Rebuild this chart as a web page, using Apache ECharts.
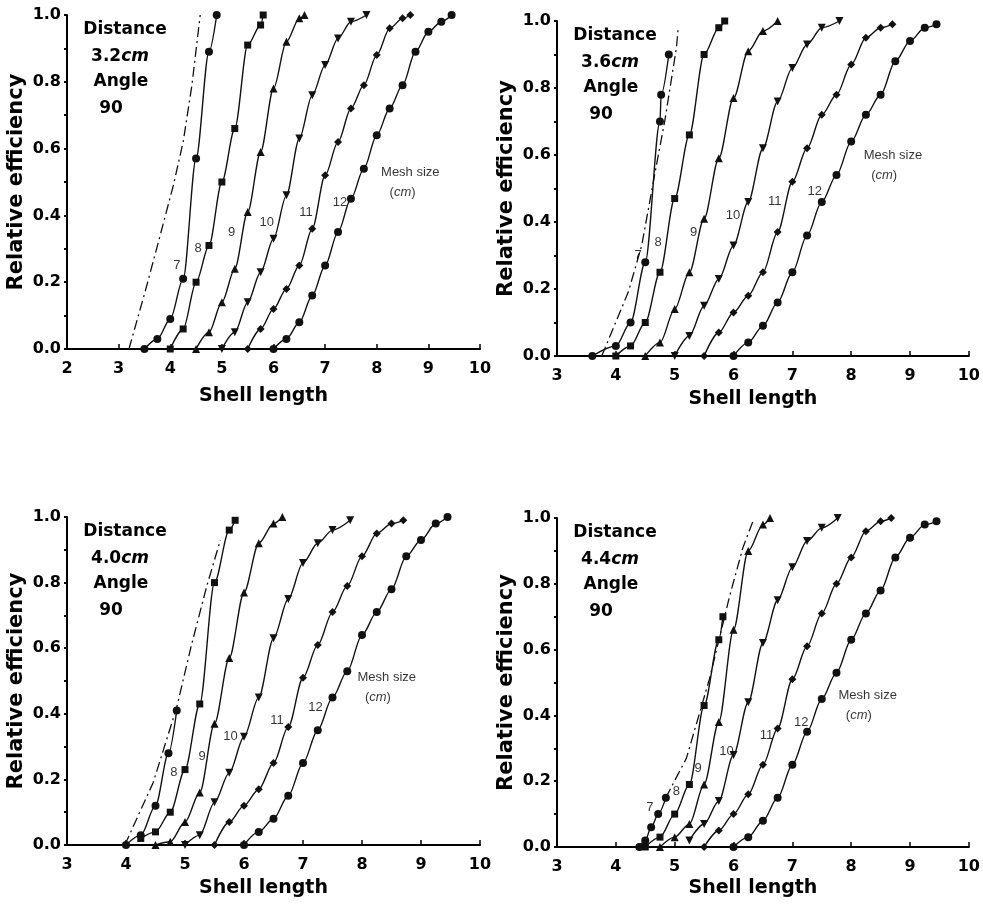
<!DOCTYPE html>
<html>
<head>
<meta charset="utf-8">
<script src="https://cdn.jsdelivr.net/npm/echarts@6/dist/echarts.min.js"></script>
<style>
html, body { margin: 0; background: #fff; }
#main { width: 983px; height: 908px; }
</style>
</head>
<body>
<div id="main"></div>
<script>
// distance 3.2 cm
const d32_7 = [[3.5,0],[3.75,0.03],[4,0.09],[4.25,0.21],[4.5,0.57],[4.75,0.89],[4.9,1.0]];
const d32_8 = [[4,0],[4.25,0.06],[4.5,0.2],[4.75,0.31],[5,0.5],[5.25,0.66],[5.5,0.91],[5.75,0.97],[5.8,1.0]];
const d32_9 = [[4.5,0],[4.75,0.05],[5,0.14],[5.25,0.24],[5.5,0.41],[5.75,0.59],[6,0.78],[6.25,0.92],[6.5,0.99],[6.6,1.0]];
const d32_10 = [[5,0],[5.25,0.05],[5.5,0.14],[5.75,0.23],[6,0.33],[6.25,0.46],[6.5,0.63],[6.75,0.76],[7,0.85],[7.25,0.93],[7.5,0.98],[7.8,1.0]];
const d32_11 = [[5.5,0],[5.75,0.06],[6,0.12],[6.25,0.18],[6.5,0.25],[6.75,0.36],[7,0.52],[7.25,0.62],[7.5,0.72],[7.75,0.79],[8,0.88],[8.25,0.96],[8.5,0.99],[8.65,1.0]];
const d32_12 = [[6,0],[6.25,0.03],[6.5,0.08],[6.75,0.16],[7,0.25],[7.25,0.35],[7.5,0.45],[7.75,0.54],[8,0.64],[8.25,0.72],[8.5,0.79],[8.75,0.89],[9,0.95],[9.25,0.98],[9.45,1.0]];
const d32_dd = [[3.2,0],[3.51,0.17],[3.77,0.32],[4.06,0.49],[4.25,0.62],[4.42,0.79],[4.58,1.0]];

// distance 3.6 cm
const d36_7 = [[3.6,0],[4,0.03],[4.25,0.1],[4.5,0.28],[4.75,0.7],[4.77,0.78],[4.9,0.9]];
const d36_8 = [[4,0],[4.25,0.03],[4.5,0.1],[4.75,0.25],[5,0.47],[5.25,0.66],[5.5,0.9],[5.75,0.98],[5.85,1.0]];
const d36_9 = [[4.5,0],[4.75,0.04],[5,0.14],[5.25,0.25],[5.5,0.41],[5.75,0.59],[6,0.77],[6.25,0.91],[6.5,0.97],[6.75,1.0]];
const d36_10 = [[5,0],[5.25,0.06],[5.5,0.15],[5.75,0.23],[6,0.33],[6.25,0.46],[6.5,0.62],[6.75,0.76],[7,0.86],[7.25,0.93],[7.5,0.98],[7.8,1.0]];
const d36_11 = [[5.5,0],[5.75,0.07],[6,0.13],[6.25,0.18],[6.5,0.25],[6.75,0.37],[7,0.52],[7.25,0.62],[7.5,0.72],[7.75,0.78],[8,0.87],[8.25,0.95],[8.5,0.98],[8.7,0.99]];
const d36_12 = [[6,0],[6.25,0.04],[6.5,0.09],[6.75,0.16],[7,0.25],[7.25,0.36],[7.5,0.46],[7.75,0.54],[8,0.64],[8.25,0.72],[8.5,0.78],[8.75,0.88],[9,0.94],[9.25,0.98],[9.45,0.99]];
const d36_dd = [[3.76,0],[4.21,0.19],[4.44,0.33],[4.69,0.57],[4.83,0.7],[5.03,0.92],[5.06,0.98]];

// distance 4.0 cm
const d40_7 = [[4,0],[4.25,0.03],[4.5,0.12],[4.72,0.28],[4.86,0.41]];
const d40_8 = [[4.25,0.02],[4.5,0.04],[4.75,0.1],[5,0.23],[5.25,0.43],[5.5,0.8],[5.75,0.96],[5.85,0.99]];
const d40_9 = [[4.5,0],[4.75,0.01],[5,0.07],[5.25,0.16],[5.5,0.37],[5.75,0.57],[6,0.77],[6.25,0.92],[6.5,0.98],[6.65,1.0]];
const d40_10 = [[5,0],[5.25,0.03],[5.5,0.13],[5.75,0.22],[6,0.33],[6.25,0.45],[6.5,0.63],[6.75,0.75],[7,0.86],[7.25,0.92],[7.5,0.96],[7.8,0.99]];
const d40_11 = [[5.5,0],[5.75,0.07],[6,0.12],[6.25,0.17],[6.5,0.25],[6.75,0.36],[7,0.51],[7.25,0.61],[7.5,0.71],[7.75,0.79],[8,0.88],[8.25,0.95],[8.5,0.98],[8.7,0.99]];
const d40_12 = [[6,0],[6.25,0.04],[6.5,0.08],[6.75,0.15],[7,0.25],[7.25,0.35],[7.5,0.45],[7.75,0.53],[8,0.64],[8.25,0.71],[8.5,0.78],[8.75,0.88],[9,0.93],[9.25,0.98],[9.45,1.0]];
const d40_dd = [[3.98,0],[4.46,0.19],[4.86,0.42],[5.11,0.61],[5.37,0.79],[5.6,0.93]];

// distance 4.4 cm
const d44_7 = [[4.4,0],[4.5,0.02],[4.6,0.06],[4.72,0.1],[4.85,0.15]];
const d44_8 = [[4.5,0],[4.75,0.03],[5,0.1],[5.25,0.19],[5.5,0.43],[5.75,0.63],[5.82,0.7]];
const d44_9 = [[4.75,0],[5,0.03],[5.25,0.07],[5.5,0.19],[5.75,0.38],[6,0.66],[6.25,0.9],[6.5,0.98],[6.62,1.0]];
const d44_10 = [[5.25,0.02],[5.5,0.07],[5.75,0.14],[6,0.28],[6.25,0.44],[6.5,0.62],[6.75,0.75],[7,0.85],[7.25,0.93],[7.5,0.97],[7.77,1.0]];
const d44_11 = [[5.5,0],[5.75,0.05],[6,0.1],[6.25,0.16],[6.5,0.25],[6.75,0.36],[7,0.51],[7.25,0.61],[7.5,0.71],[7.75,0.8],[8,0.88],[8.25,0.96],[8.5,0.99],[8.68,1.0]];
const d44_12 = [[6,0],[6.25,0.03],[6.5,0.08],[6.75,0.15],[7,0.25],[7.25,0.35],[7.5,0.45],[7.75,0.53],[8,0.63],[8.25,0.71],[8.5,0.78],[8.75,0.88],[9,0.94],[9.25,0.98],[9.45,0.99]];
const d44_dd = [[4.85,0.15],[5.2,0.27],[5.59,0.51],[5.93,0.76],[6.16,0.91],[6.33,0.99]];

// mesh size labels [x, y, text]
const lab32 = [[4.13,0.25,'7'],[4.54,0.3,'8'],[5.19,0.35,'9'],[5.87,0.38,'10'],[6.63,0.41,'11'],[7.29,0.44,'12']];
const lab36 = [[4.38,0.3,'7'],[4.72,0.34,'8'],[5.32,0.37,'9'],[5.99,0.42,'10'],[6.7,0.46,'11'],[7.38,0.49,'12']];
const lab40 = [[4.81,0.22,'8'],[5.29,0.27,'9'],[5.77,0.33,'10'],[6.56,0.38,'11'],[7.21,0.42,'12']];
const lab44 = [[4.58,0.12,'7'],[5.03,0.17,'8'],[5.4,0.24,'9'],[5.88,0.29,'10'],[6.56,0.34,'11'],[7.15,0.38,'12']];
const meshPos = [[8.65,0.53],[8.71,0.6],[8.42,0.51],[8.28,0.46]];

const distances = ['3.2', '3.6', '4.0', '4.4'];
const xMins = [2, 3, 3, 3];
const yTicks = ['0.0', '0.2', '0.4', '0.6', '0.8', '1.0'];

const BOLD = 'DejaVu Sans, Arial, sans-serif';
const FONT = 'Liberation Sans, Arial, sans-serif';
const downTri = 'path://M0,0 L10,0 L5,9 Z';
const symbols = ['circle', 'rect', 'triangle', downTri, 'diamond', 'circle'];

const panels = [
    { grid: { left: 67, top: 15, width: 413, height: 334 }, curves: [d32_7, d32_8, d32_9, d32_10, d32_11, d32_12], dd: d32_dd, labels: lab32, gap: 38 },
    { grid: { left: 557, top: 21, width: 413, height: 335 }, curves: [d36_7, d36_8, d36_9, d36_10, d36_11, d36_12], dd: d36_dd, labels: lab36, gap: 34 },
    { grid: { left: 67, top: 517, width: 413, height: 328 }, curves: [d40_7, d40_8, d40_9, d40_10, d40_11, d40_12], dd: d40_dd, labels: lab40, gap: 34 },
    { grid: { left: 557, top: 518, width: 413, height: 329 }, curves: [d44_7, d44_8, d44_9, d44_10, d44_11, d44_12], dd: d44_dd, labels: lab44, gap: 32 }
];

const grids = [], xAxes = [], yAxes = [], series = [], graphics = [];

panels.forEach((p, i) => {
    grids.push(p.grid);
    xAxes.push({
        gridIndex: i, type: 'value', min: xMins[i], max: 10, interval: 1,
        axisLine: { lineStyle: { color: '#000', width: 2 } },
        axisTick: { inside: true, length: 5, lineStyle: { color: '#000', width: 1.5 } },
        axisLabel: { color: '#000', fontSize: 16, fontWeight: 'bold', fontFamily: BOLD, margin: 12 },
        splitLine: { show: false },
        name: 'Shell length', nameLocation: 'middle', nameGap: p.gap,
        nameTextStyle: { color: '#000', fontSize: 19, fontWeight: 'bold', fontFamily: BOLD, padding: [0, 20, 0, 0] }
    });
    yAxes.push({
        gridIndex: i, type: 'value', min: 0, max: 1, interval: 0.2,
        axisLine: { show: true, lineStyle: { color: '#000', width: 2 } },
        axisTick: { show: true, length: 3, lineStyle: { color: '#000', width: 2 } },
        minorTick: { show: true, splitNumber: 2, length: 3, lineStyle: { color: '#000', width: 2 } },
        axisLabel: {
            color: '#000', fontSize: 16, fontWeight: 'bold', fontFamily: BOLD, margin: 6,
            formatter: v => yTicks[Math.round(v * 5)]
        },
        splitLine: { show: false },
        name: 'Relative efficiency', nameLocation: 'middle', nameGap: 40,
        nameTextStyle: { color: '#000', fontSize: 21, fontWeight: 'bold', fontFamily: BOLD }
    });

    p.curves.forEach((d, k) => {
        series.push({
            type: 'line', xAxisIndex: i, yAxisIndex: i, data: d,
            smooth: 0.3, smoothMonotone: 'x',
            symbol: symbols[k], symbolSize: k === 1 ? 7 : 8,
            itemStyle: { color: '#111' },
            lineStyle: { color: '#111', width: 1.4 },
            silent: true, z: 3
        });
    });
    series.push({
        type: 'line', xAxisIndex: i, yAxisIndex: i, data: p.dd,
        smooth: false, symbol: 'none',
        lineStyle: { color: '#111', width: 1.3, type: [10, 4, 2, 4] },
        silent: true, z: 2
    });

    const txt = p.labels.map(l => ({ value: [l[0], l[1]], name: l[2] }));
    txt.push({ value: meshPos[i], name: 'Mesh size' });
    txt.push({ value: [meshPos[i][0] - 0.15, meshPos[i][1] - 0.06], name: '({i|cm})' });
    series.push({
        type: 'scatter', xAxisIndex: i, yAxisIndex: i, data: txt,
        symbolSize: 0, silent: true, z: 5,
        itemStyle: { color: '#000' },
        label: {
            show: true, position: 'inside', formatter: q => q.name,
            color: '#000', textBorderWidth: 0, fontSize: 13, fontFamily: FONT,
            rich: { i: { fontStyle: 'italic', fontSize: 13, fontFamily: FONT, color: '#000', textBorderWidth: 0 } }
        }
    });

    // Distance / Angle block
    const cx = p.grid.left + 58, ty = p.grid.top;
    const base = { fontSize: 17, fontWeight: 'bold', fontFamily: BOLD, fill: '#000', align: 'center', verticalAlign: 'middle' };
    graphics.push({ type: 'text', x: cx, y: ty + 15, style: Object.assign({ text: 'Distance' }, base) });
    graphics.push({ type: 'text', x: cx - 5, y: ty + 42, style: Object.assign({
        text: distances[i] + '{i|cm}',
        rich: { i: { fontStyle: 'italic', fontWeight: 'bold', fontSize: 17, fontFamily: BOLD, fill: '#000' } }
    }, base) });
    graphics.push({ type: 'text', x: cx - 4, y: ty + 67, style: Object.assign({ text: 'Angle' }, base) });
    graphics.push({ type: 'text', x: cx - 14, y: ty + 94, style: Object.assign({ text: '90' }, base) });
});

const chart = echarts.init(document.getElementById('main'));
chart.setOption({
    animation: false,
    backgroundColor: '#fff',
    grid: grids,
    xAxis: xAxes,
    yAxis: yAxes,
    series: series,
    graphic: graphics
});
</script>
</body>
</html>
